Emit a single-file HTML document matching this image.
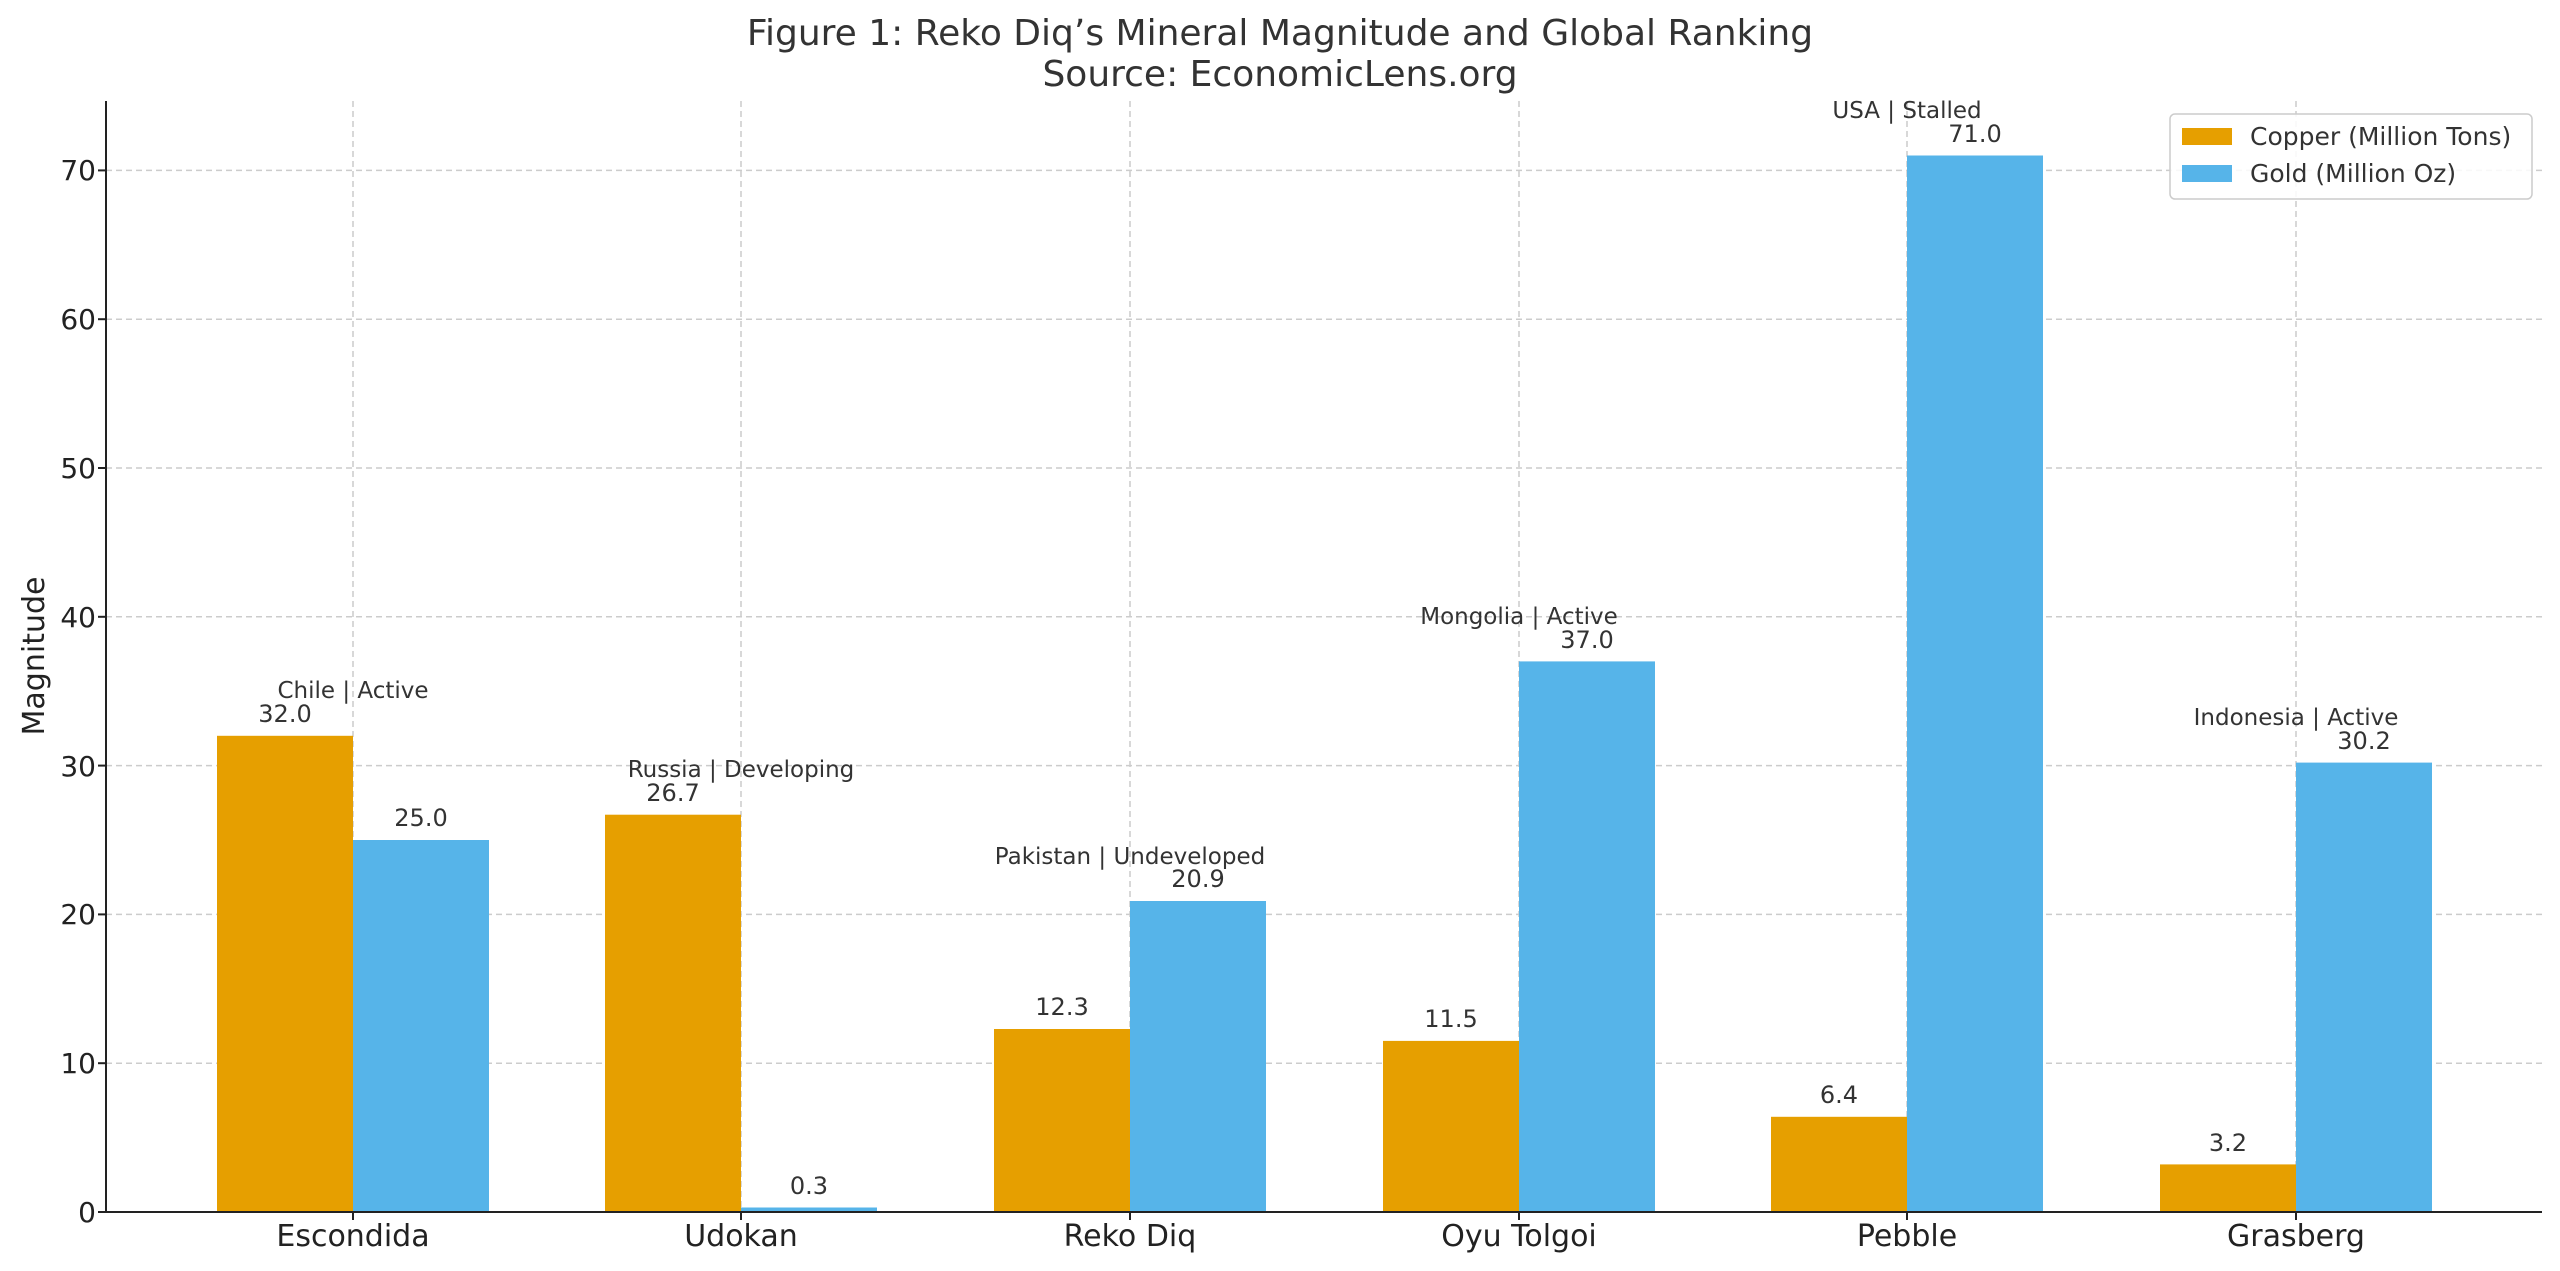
<!DOCTYPE html>
<html><head><meta charset="utf-8"><style>html,body{margin:0;padding:0;background:#fff}svg{display:block}</style></head>
<body>
<svg width="2560" height="1271" viewBox="0 0 2560 1271" xmlns="http://www.w3.org/2000/svg" font-family="DejaVu Sans, Liberation Sans, sans-serif">
<rect width="2560" height="1271" fill="#fff"/>
<text x="1280" y="45" font-size="36" fill="#333" text-anchor="middle">Figure 1: Reko Diq’s Mineral Magnitude and Global Ranking</text>
<text x="1280" y="86" font-size="36" fill="#333" text-anchor="middle">Source: EconomicLens.org</text>
<g stroke="#ccc" stroke-width="1.5" stroke-dasharray="6,4">
<line x1="106" x2="2542" y1="1063.2" y2="1063.2"/><line x1="106" x2="2542" y1="914.4" y2="914.4"/>
<line x1="106" x2="2542" y1="765.6" y2="765.6"/><line x1="106" x2="2542" y1="616.8" y2="616.8"/>
<line x1="106" x2="2542" y1="468" y2="468"/><line x1="106" x2="2542" y1="319.2" y2="319.2"/>
<line x1="106" x2="2542" y1="170.4" y2="170.4"/>
<line x1="353" x2="353" y1="101" y2="1212"/><line x1="741" x2="741" y1="101" y2="1212"/>
<line x1="1130" x2="1130" y1="101" y2="1212"/><line x1="1519" x2="1519" y1="101" y2="1212"/>
<line x1="1907" x2="1907" y1="101" y2="1212"/><line x1="2296" x2="2296" y1="101" y2="1212"/>
</g>
<g fill="#E69F00">
<rect x="217" y="735.8" width="136" height="476.2"/>
<rect x="605" y="814.7" width="136" height="397.3"/>
<rect x="994" y="1029" width="136" height="183"/>
<rect x="1383" y="1040.9" width="136" height="171.1"/>
<rect x="1771" y="1116.8" width="136" height="95.2"/>
<rect x="2160" y="1164.4" width="136" height="47.6"/>
</g>
<g fill="#56B4E9">
<rect x="353" y="840" width="136" height="372"/>
<rect x="741" y="1207.5" width="136" height="4.5"/>
<rect x="1130" y="901" width="136" height="311"/>
<rect x="1519" y="661.4" width="136" height="550.6"/>
<rect x="1907" y="155.5" width="136" height="1056.5"/>
<rect x="2296" y="762.6" width="136" height="449.4"/>
</g>
<g stroke="#222" stroke-width="2" fill="none">
<line x1="106" x2="106" y1="101" y2="1212"/><line x1="106" x2="2542" y1="1212" y2="1212"/>
</g>
<g font-size="24" fill="#333" text-anchor="middle">
<text x="285" y="722">32.0</text><text x="673" y="801">26.7</text><text x="1062" y="1015">12.3</text>
<text x="1451" y="1027">11.5</text><text x="1839" y="1103">6.4</text><text x="2228" y="1151">3.2</text>
<text x="421" y="826">25.0</text><text x="809" y="1194">0.3</text><text x="1198" y="887">20.9</text>
<text x="1587" y="648">37.0</text><text x="1975" y="142">71.0</text><text x="2364" y="749">30.2</text>
</g>
<g font-size="23" fill="#333" text-anchor="middle">
<text x="353" y="698">Chile | Active</text><text x="741" y="777">Russia | Developing</text>
<text x="1130" y="864">Pakistan | Undeveloped</text><text x="1519" y="624">Mongolia | Active</text>
<text x="1907" y="118">USA | Stalled</text><text x="2296" y="725">Indonesia | Active</text>
</g>
<g font-size="28" fill="#222" text-anchor="end">
<text x="96" y="1222">0</text><text x="96" y="1073">10</text><text x="96" y="924">20</text><text x="96" y="776">30</text>
<text x="96" y="627">40</text><text x="96" y="478">50</text><text x="96" y="329">60</text><text x="96" y="180">70</text>
</g>
<g stroke="#222" stroke-width="2">
<line x1="98" x2="106" y1="1212" y2="1212"/><line x1="98" x2="106" y1="1063.2" y2="1063.2"/><line x1="98" x2="106" y1="914.4" y2="914.4"/>
<line x1="98" x2="106" y1="765.6" y2="765.6"/><line x1="98" x2="106" y1="616.8" y2="616.8"/><line x1="98" x2="106" y1="468" y2="468"/>
<line x1="98" x2="106" y1="319.2" y2="319.2"/><line x1="98" x2="106" y1="170.4" y2="170.4"/>
<line x1="353" x2="353" y1="1212" y2="1220"/><line x1="741" x2="741" y1="1212" y2="1220"/><line x1="1130" x2="1130" y1="1212" y2="1220"/>
<line x1="1519" x2="1519" y1="1212" y2="1220"/><line x1="1907" x2="1907" y1="1212" y2="1220"/><line x1="2296" x2="2296" y1="1212" y2="1220"/>
</g>
<g font-size="30" fill="#222" text-anchor="middle">
<text x="353" y="1246">Escondida</text><text x="741" y="1246">Udokan</text><text x="1130" y="1246">Reko Diq</text>
<text x="1519" y="1246">Oyu Tolgoi</text><text x="1907" y="1246">Pebble</text><text x="2296" y="1246">Grasberg</text>
</g>
<text transform="translate(44,656) rotate(-90)" font-size="30" fill="#222" text-anchor="middle">Magnitude</text>
<rect x="2170" y="114" width="362" height="85" rx="5" fill="#fff" fill-opacity="0.85" stroke="#ccc" stroke-width="1.5"/>
<rect x="2182" y="128" width="50" height="17" fill="#E69F00"/>
<rect x="2182" y="165" width="50" height="17" fill="#56B4E9"/>
<text x="2250" y="145" font-size="25" fill="#333">Copper (Million Tons)</text>
<text x="2250" y="182" font-size="25" fill="#333">Gold (Million Oz)</text>
</svg>
</body></html>
